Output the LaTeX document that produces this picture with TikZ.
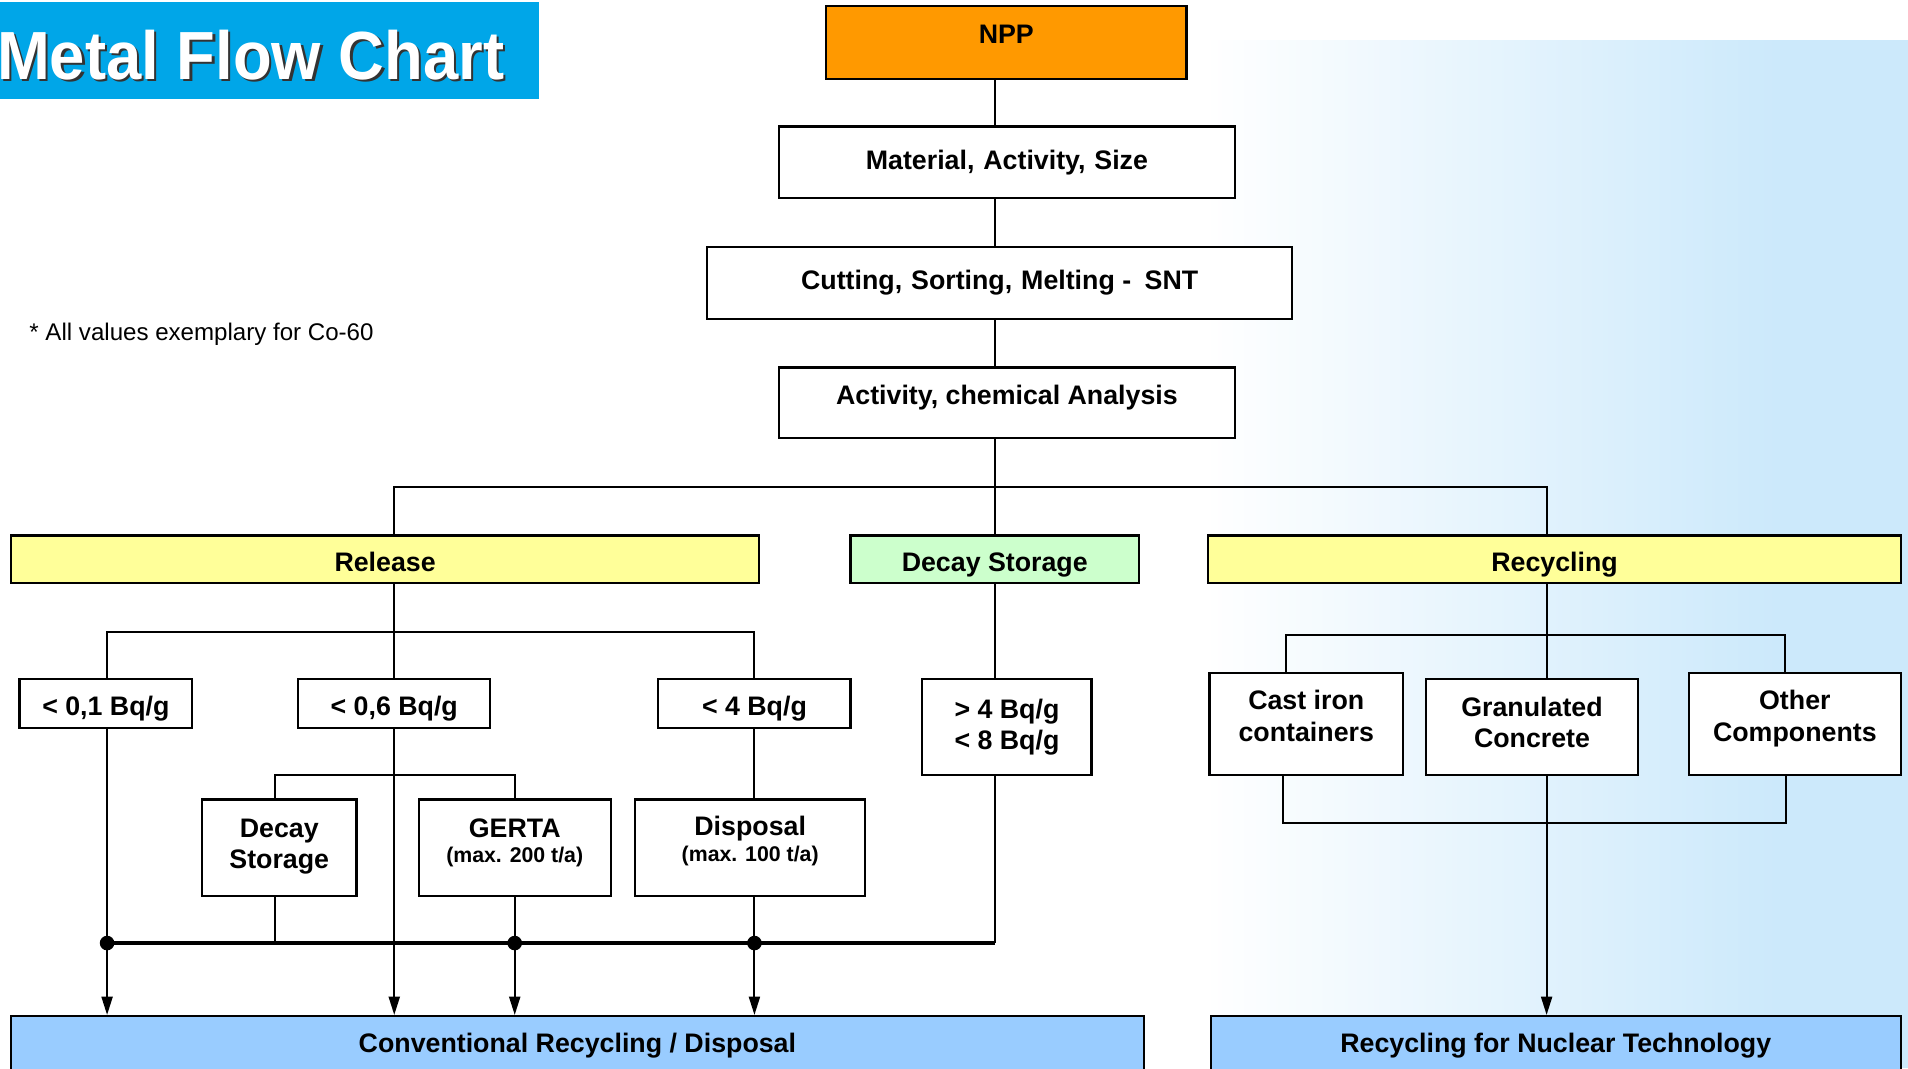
\documentclass[tikz,border=0pt]{standalone}
\usepackage{fontspec}
\setmainfont{Liberation Sans}
\usetikzlibrary{arrows.meta,calc}
\definecolor{titleblue}{RGB}{0,166,232}
\definecolor{nppor}{RGB}{255,153,0}
\definecolor{relyel}{RGB}{255,255,153}
\definecolor{decgreen}{RGB}{204,255,204}
\definecolor{outblue}{RGB}{153,204,255}
\definecolor{bgblue}{RGB}{204,233,251}
\begin{document}
\begin{tikzpicture}[x=1pt,y=-1pt,
  box/.style={draw=black, line width=1.8pt, fill=white, inner sep=0pt, font=\fontsize{22}{26}\selectfont\bfseries, align=center},
  bar/.style={box, text height=20pt, text depth=0pt},
  conn/.style={line width=1.7pt},
  arr/.style={conn, -{Triangle[length=15pt,width=9pt]}},
  busline/.style={line width=2.6pt},
  dot/.style={circle, fill=black, inner sep=0pt, minimum size=12pt},
]
\useasboundingbox (0,0) rectangle (1568,878);
\clip (0,0) rectangle (1568,878);
\fill[white] (0,0) rectangle (1568,878);
\shade[left color=white, right color=bgblue] (990,33) rectangle (1460,878);
\fill[bgblue] (1459,33) rectangle (1568,878);

% title
\fill[titleblue] (0,2) rectangle (443,81);
\node[anchor=base east, text=black!80, inner sep=0pt, font=\fontsize{56}{60}\selectfont\bfseries] (titleshadow) at (416.5,67) {\scalebox{0.93}[1]{Metal Flow Chart}};
\node[anchor=base east, text=white, inner sep=0pt, font=\fontsize{56}{60}\selectfont\bfseries] (title) at (414.5,65) {\scalebox{0.93}[1]{Metal Flow Chart}};

\node[anchor=base west, inner sep=0pt, font=\fontsize{19.8}{24}\selectfont] (note) at (24,280) {* All values exemplary for Co-60};

% main chain
\node[box, fill=nppor, minimum width=296pt, minimum height=60pt, text height=16pt, text depth=14pt] (npp) at (827,35) {NPP};
\node[box, minimum width=375pt, minimum height=59pt] (mat) at (827.5,133.5) {Material,\,\,Activity,\,\,Size};
\node[box, minimum width=481pt, minimum height=59pt, text height=16pt, text depth=6pt] (cut) at (821.5,232.5) {Cutting,\,\,Sorting,\,\,Melting -\,\,\,SNT};
\node[box, minimum width=375pt, minimum height=58pt, text height=16pt, text depth=13pt] (ana) at (827.5,331) {Activity, chemical Analysis};

% category bars
\node[bar, fill=relyel, minimum width=615pt, minimum height=39pt] (rel) at (316.5,459.5) {Release};
\node[bar, fill=decgreen, minimum width=237pt, minimum height=39pt] (dec) at (817.5,459.5) {Decay Storage};
\node[bar, fill=relyel, minimum width=569pt, minimum height=39pt] (rec) at (1277.5,459.5) {Recycling};

% release thresholds
\node[bar, minimum width=142pt, minimum height=40pt] (b01) at (87,578) {< 0,1 Bq/g};
\node[bar, minimum width=158pt, minimum height=40pt] (b06) at (324,578) {< 0,6 Bq/g};
\node[bar, minimum width=158pt, minimum height=40pt] (b4) at (620,578) {< 4 Bq/g};
\node[box, minimum width=139pt, minimum height=79pt] (b48) at (827.5,597.5) {> 4 Bq/g\\< 8 Bq/g};

\node[box, minimum width=127pt, minimum height=79pt, text depth=6pt] (ds) at (229.5,696.5) {Decay\\Storage};
\node[box, minimum width=158pt, minimum height=79pt, text depth=11pt] (gerta) at (423,696.5) {GERTA\\[-5pt]{\fontsize{17.5}{21}\selectfont (max. 200 t/a)}};
\node[box, minimum width=189pt, minimum height=79pt, text depth=14pt] (disp) at (616.5,696.5) {Disposal\\[-5pt]{\fontsize{17.5}{21}\selectfont (max. 100 t/a)}};

% recycling items
\node[box, minimum width=159pt, minimum height=84pt, text depth=14pt] (cast) at (1073.5,595) {Cast iron\\containers};
\node[box, minimum width=174pt, minimum height=79pt, text depth=8pt] (gran) at (1259,597.5) {Granulated\\Concrete};
\node[box, minimum width=174pt, minimum height=84pt, text depth=14pt] (oth) at (1475,595) {Other\\Components};

% outputs
\node[box, fill=outblue, minimum width=931pt, minimum height=46pt, text height=16pt, text depth=2pt] (conv) at (474.5,858) {Conventional Recycling / Disposal};
\node[box, fill=outblue, minimum width=567pt, minimum height=46pt, text height=16pt, text depth=2pt] (nuc) at (1278.5,858) {Recycling for Nuclear Technology};

% helper coordinates
\coordinate (sp) at (818,400);
\coordinate (rt) at (1271,522);
\coordinate (rj) at (324,519);
\coordinate (gj) at (324,637);
\coordinate (xds) at (226,775);
\coordinate (xb4) at (620,775);
\coordinate (xg) at (423,775);
\coordinate (xc1) at (1057,522);
\coordinate (xo1) at (1467,522);
\coordinate (xc2) at (1054,676);
\coordinate (xo2) at (1468,676);
\coordinate (rb) at (1271,676);
\coordinate (bus0) at (88,775);
\coordinate (bus1) at (818,775);

% connectors
\draw[conn] (npp.south -| sp) -- (mat.north -| sp);
\draw[conn] (mat.south -| sp) -- (cut.north -| sp);
\draw[conn] (cut.south -| sp) -- (ana.north -| sp);
\draw[conn] (ana.south -| sp) -- (sp);
\draw[conn] (rel.north -| rj) |- (sp) -| (rec.north -| rt);
\draw[conn] (sp) -- (dec.north -| sp);

\draw[conn] (rel.south -| rj) -- (rj);
\draw[conn] (b01.north -| bus0) |- (rj) -| (b4.north -| xb4);
\draw[conn] (rj) -- (b06.north);
\draw[conn] (ds.north -| xds) |- (gj) -| (gerta.north);
\draw[conn] (b4.south -| xb4) -- (disp.north -| xb4);
\draw[conn] (ds.south -| xds) -- (xds);
\draw[conn] (dec.south -| sp) -- (b48.north -| sp);
\draw[conn] (b48.south -| sp) -- (bus1);
\draw[busline] (bus0) -- (bus1);
\draw[arr] (b01.south -| bus0) -- (conv.north -| bus0);
\draw[arr] (b06.south) -- (conv.north -| b06);
\draw[arr] (gerta.south) -- (conv.north -| gerta);
\draw[arr] (disp.south -| xb4) -- (conv.north -| xb4);
\node[dot] (d1) at (bus0) {};
\node[dot] (d2) at (xg) {};
\node[dot] (d3) at (xb4) {};

\draw[conn] (rec.south -| rt) -- (gran.north -| rt);
\draw[conn] (cast.north -| xc1) |- (rt) -| (oth.north -| xo1);
\draw[conn] (cast.south -| xc2) |- (rb) -| (oth.south -| xo2);
\draw[arr] (gran.south -| rb) -- (nuc.north -| rb);
\end{tikzpicture}
\end{document}
